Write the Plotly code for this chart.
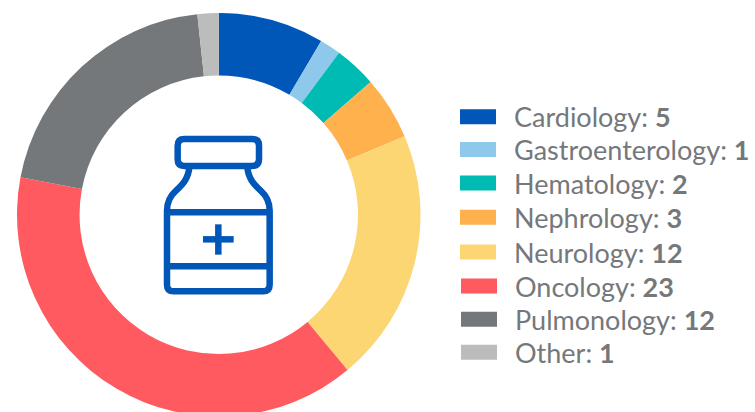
import plotly.graph_objects as go

W, H = 755, 418
categories = ["Cardiology", "Gastroenterology", "Hematology", "Nephrology",
              "Neurology", "Oncology", "Pulmonology", "Other"]
values = [5, 1, 2, 3, 12, 23, 12, 1]
colors = ["#0057B8", "#8EC8EA", "#00BBB4", "#FFB14E",
          "#FCD672", "#FF5A5F", "#75787B", "#BBBCBC"]
row_y = [116.7, 149.5, 183, 217.3, 252, 286, 319.3, 352.3]
swatch_x = [460, 460, 460, 460, 460, 461, 461, 461]
TEXT = "#75787B"
ICON = "#0057B8"
FONT = "Lato"


def px(x):
    return x / W


def py(y):
    return 1 - y / H


def ic(x, y):
    # icon sketch coordinates (3x crop of region at 140,120) to paper
    return f"{px(140 + x / 3):.5f},{py(120 + y / 3):.5f}"


def icon_path(cmds):
    out = []
    for c in cmds:
        out.append(c[0] + " ".join(ic(*p) for p in c[1:]))
    return " ".join(out)


cap = [("M", (133, 57)), ("L", (337, 57)), ("Q", (357, 57), (357, 77)),
       ("L", (357, 118)), ("Q", (357, 138), (337, 138)),
       ("L", (133, 138)), ("Q", (113, 138), (113, 118)),
       ("L", (113, 77)), ("Q", (113, 57), (133, 57))]
body = [("M", (148, 140)), ("C", (146, 175), (128, 193), (108, 212)),
        ("C", (90, 228), (81, 248), (81, 272)),
        ("L", (81, 494)), ("Q", (81, 514), (101, 514)),
        ("L", (369, 514)), ("Q", (389, 514), (389, 494)),
        ("L", (389, 272)), ("C", (389, 248), (380, 228), (362, 212)),
        ("C", (342, 193), (324, 175), (322, 140))]
lines = [[("M", (81, 277)), ("L", (389, 277))],
         [("M", (81, 439)), ("L", (389, 439))],
         [("M", (189, 358)), ("L", (281, 358))],
         [("M", (235, 313)), ("L", (235, 404))]]

shapes = []
for p in [cap, body] + lines:
    shapes.append(dict(type="path", xref="paper", yref="paper", path=icon_path(p),
                       line=dict(color=ICON, width=6.5)))

annotations = []
for name, val, col, y, x in zip(categories, values, colors, row_y, swatch_x):
    shapes.append(dict(type="rect", xref="paper", yref="paper",
                       x0=px(x), x1=px(x + 36), y0=py(y - 7.5), y1=py(y + 7.5),
                       fillcolor=col, line=dict(width=0)))
    annotations.append(dict(xref="paper", yref="paper", x=px(x + 52), y=py(y),
                            xanchor="left", yanchor="middle", showarrow=False,
                            text=f"{name}: <b>{val}</b>",
                            font=dict(family=FONT, size=27, color=TEXT)))

fig = go.Figure(go.Pie(
    labels=categories, values=values, hole=0.69, sort=False,
    direction="clockwise", rotation=0, textinfo="none", showlegend=False,
    marker=dict(colors=colors, line=dict(width=0)),
    domain=dict(x=[px(17), px(420.5)], y=[py(416.5), py(13)]),
))
fig.update_layout(width=W, height=H, margin=dict(l=0, r=0, t=0, b=0),
                  paper_bgcolor="white", plot_bgcolor="white",
                  shapes=shapes, annotations=annotations)
fig.write_html("out.html", config=dict(displayModeBar=False),
               post_script="document.body.style.margin='0';document.body.style.overflow='hidden';document.documentElement.style.overflow='hidden';")
